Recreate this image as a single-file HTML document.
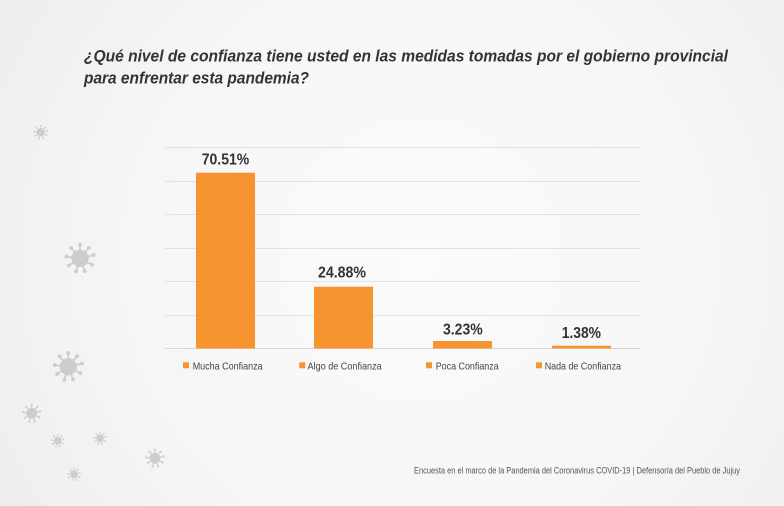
<!DOCTYPE html>
<html>
<head>
<meta charset="utf-8">
<style>
html,body{margin:0;padding:0;}
body{width:784px;height:506px;overflow:hidden;}
svg{display:block;}
</style>
</head>
<body>
<svg width="784" height="506" viewBox="0 0 784 506" xmlns="http://www.w3.org/2000/svg">
  <defs>
    <radialGradient id="bg" cx="420" cy="260" r="480" gradientUnits="userSpaceOnUse">
      <stop offset="0" stop-color="#fbfbfb"/>
      <stop offset="0.6" stop-color="#f6f6f6"/>
      <stop offset="1" stop-color="#eeeeee"/>
    </radialGradient>
    <g id="virus" fill="#cdcdcd" stroke="#cdcdcd">
      <circle cx="0" cy="0" r="5.4" stroke="none"/>
      <g stroke-width="1.1">
        <line x1="0" y1="0" x2="0" y2="-8.5"/>
        <line x1="0" y1="0" x2="5.5" y2="-6.5"/>
        <line x1="0" y1="0" x2="8.5" y2="-2"/>
        <line x1="0" y1="0" x2="7.5" y2="4"/>
        <line x1="0" y1="0" x2="3" y2="8"/>
        <line x1="0" y1="0" x2="-2.5" y2="8.2"/>
        <line x1="0" y1="0" x2="-7" y2="4.5"/>
        <line x1="0" y1="0" x2="-8.5" y2="-1"/>
        <line x1="0" y1="0" x2="-5.5" y2="-6.5"/>
      </g>
      <g stroke="none">
        <circle cx="0" cy="-8.5" r="1.2"/>
        <circle cx="5.5" cy="-6.5" r="1.2"/>
        <circle cx="8.5" cy="-2" r="1.2"/>
        <circle cx="7.5" cy="4" r="1.2"/>
        <circle cx="3" cy="8" r="1.2"/>
        <circle cx="-2.5" cy="8.2" r="1.2"/>
        <circle cx="-7" cy="4.5" r="1.2"/>
        <circle cx="-8.5" cy="-1" r="1.2"/>
        <circle cx="-5.5" cy="-6.5" r="1.2"/>
      </g>
    </g>
  </defs>

  <rect x="0" y="0" width="784" height="506" fill="url(#bg)"/>

  <!-- viruses -->
  <use href="#virus" transform="translate(40.7,132.3) scale(0.75)"/>
  <use href="#virus" transform="translate(80,258.3) scale(1.6)"/>
  <use href="#virus" transform="translate(68.3,366.7) scale(1.6)"/>
  <use href="#virus" transform="translate(31.7,413.3) scale(1.0)"/>
  <use href="#virus" transform="translate(57.7,440.7) scale(0.7)"/>
  <use href="#virus" transform="translate(100,438.3) scale(0.7)"/>
  <use href="#virus" transform="translate(155,458.3) scale(1.0)"/>
  <use href="#virus" transform="translate(74,474.3) scale(0.7)"/>

  <!-- title -->
  <g font-family="'Liberation Sans', sans-serif" font-weight="bold" font-style="italic" font-size="16.3" fill="#333333">
    <text x="84" y="61.5" textLength="644" lengthAdjust="spacingAndGlyphs">¿Qué nivel de confianza tiene usted en las medidas tomadas por el gobierno provincial</text>
    <text x="84" y="83.5" textLength="225" lengthAdjust="spacingAndGlyphs">para enfrentar esta pandemia?</text>
  </g>

  <!-- gridlines -->
  <g stroke="#e2e2e2" stroke-width="1">
    <line x1="165" y1="147.5" x2="640" y2="147.5"/>
    <line x1="165" y1="181.5" x2="640" y2="181.5"/>
    <line x1="165" y1="214.5" x2="640" y2="214.5"/>
    <line x1="165" y1="248.5" x2="640" y2="248.5"/>
    <line x1="165" y1="281.5" x2="640" y2="281.5"/>
    <line x1="165" y1="315.5" x2="640" y2="315.5"/>
  </g>
  <line x1="165" y1="348.5" x2="640" y2="348.5" stroke="#d8d8d8" stroke-width="1"/>

  <!-- bars -->
  <g fill="#f69430">
    <rect x="196" y="172.7" width="59" height="175.8"/>
    <rect x="314" y="286.7" width="59" height="61.8"/>
    <rect x="433" y="341" width="59" height="7.5"/>
    <rect x="552" y="345.7" width="59" height="2.8"/>
  </g>

  <!-- value labels -->
  <g font-family="'Liberation Sans', sans-serif" font-weight="bold" font-size="15.8" fill="#333333">
    <text x="201.7" y="164.3" textLength="47.6" lengthAdjust="spacingAndGlyphs">70.51%</text>
    <text x="318" y="277.3" textLength="48" lengthAdjust="spacingAndGlyphs">24.88%</text>
    <text x="443" y="334.3" textLength="39.7" lengthAdjust="spacingAndGlyphs">3.23%</text>
    <text x="561.7" y="338" textLength="39.3" lengthAdjust="spacingAndGlyphs">1.38%</text>
  </g>

  <!-- legend -->
  <g fill="#f69430">
    <rect x="183" y="362.3" width="6" height="6"/>
    <rect x="299.3" y="362.3" width="6" height="6"/>
    <rect x="426" y="362.3" width="6" height="6"/>
    <rect x="536" y="362.3" width="6" height="6"/>
  </g>
  <g font-family="'Liberation Sans', sans-serif" font-size="10.2" fill="#444444">
    <text x="192.7" y="369.3" textLength="70" lengthAdjust="spacingAndGlyphs">Mucha Confianza</text>
    <text x="307.5" y="369.3" textLength="74.2" lengthAdjust="spacingAndGlyphs">Algo de Confianza</text>
    <text x="435.7" y="369.3" textLength="63" lengthAdjust="spacingAndGlyphs">Poca Confianza</text>
    <text x="544.7" y="369.3" textLength="76.3" lengthAdjust="spacingAndGlyphs">Nada de Confianza</text>
  </g>

  <!-- footer -->
  <text x="414" y="473.3" font-family="'Liberation Sans', sans-serif" font-size="8.8" fill="#555555" textLength="326" lengthAdjust="spacingAndGlyphs">Encuesta en el marco de la Pandemia del Coronavirus COVID-19 | Defensoría del Pueblo de Jujuy</text>
</svg>
</body>
</html>
